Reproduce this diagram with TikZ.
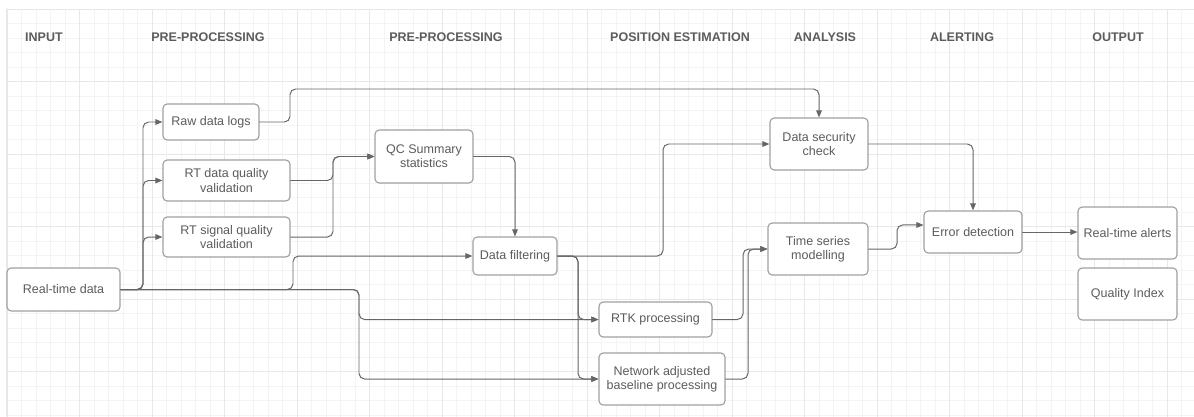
\documentclass[tikz,border=0pt]{standalone}
\usepackage{fontspec}
\setmainfont{Liberation Sans}
\usepackage{tikz}
\usetikzlibrary{arrows.meta}
\usepackage{xcolor}
\definecolor{txtgray}{HTML}{5C5C5C}
\definecolor{linegray}{HTML}{666666}
\definecolor{boxgray}{HTML}{A0A0A0}
\definecolor{gridminor}{HTML}{F4F4F4}
\definecolor{gridmajor}{HTML}{E8E8E8}

\tikzset{
  box/.style={draw=boxgray,line width=0.8pt,rounded corners=3pt,fill=white,
    align=center,inner sep=2pt,text=txtgray},
  conn/.style={draw=linegray,line width=0.7pt,rounded corners=4pt,
    -{Triangle[length=5pt,width=4pt]}},
  lane/.style={font=\bfseries\fontsize{8.9}{10}\selectfont,text=txtgray}
}

\begin{document}
\begin{tikzpicture}[x=0.025cm,y=-0.025cm,font=\fontsize{8.9}{10.2}\selectfont,line cap=round]
\useasboundingbox (0,0) rectangle (1194,416);
\fill[white] (0,0) rectangle (1194,416);
\begin{scope}
\clip (7,9) rectangle (1194,416);
\begin{scope}[shift={(7,9)}]
\draw[gridminor,line width=0.5pt] (0,0) grid[xstep=0.3625cm,ystep=0.3625cm] (1190,410);
\draw[gridmajor,line width=0.6pt] (0,0) grid[xstep=1.8125cm,ystep=1.8125cm] (1190,410);
\end{scope}
\end{scope}
\draw[gridmajor,line width=1pt] (7,9) -- (7,416);

% lane headings
\node[lane] (hin) at (44,37) {INPUT};
\node[lane] (hpre1) at (208,37) {PRE-PROCESSING};
\node[lane] (hpre2) at (446,37) {PRE-PROCESSING};
\node[lane] (hpos) at (680,37) {POSITION ESTIMATION};
\node[lane] (hana) at (825,37) {ANALYSIS};
\node[lane] (halert) at (962,37) {ALERTING};
\node[lane] (hout) at (1118,37) {OUTPUT};

% boxes
\node[box,minimum width=2.825cm,minimum height=1.075cm] (rtd) at (63.5,289.5) {Real-time data};
\node[box,minimum width=2.4cm,minimum height=0.9cm] (raw) at (211,122) {Raw data logs};
\node[box,minimum width=3.175cm,minimum height=1.025cm] (rtdq) at (226.5,180.5) {RT data quality\\validation};
\node[box,minimum width=3.175cm,minimum height=1.0cm] (rtsq) at (226.5,237) {RT signal quality\\validation};
\node[box,minimum width=2.45cm,minimum height=1.325cm] (qc) at (424,156.5) {QC Summary\\statistics};
\node[box,minimum width=2.1cm,minimum height=0.95cm] (filt) at (515,256) {Data filtering};
\node[box,minimum width=2.825cm,minimum height=0.875cm] (rtk) at (655.5,319.5) {RTK processing};
\node[box,minimum width=3.15cm,minimum height=1.3cm] (nab) at (662,379) {Network adjusted\\baseline processing};
\node[box,minimum width=2.45cm,minimum height=1.3cm] (dsc) at (819,144) {Data security\\check};
\node[box,minimum width=2.5cm,minimum height=1.3cm] (tsm) at (818,249) {Time series\\modelling};
\node[box,minimum width=2.45cm,minimum height=1.05cm] (err) at (973,232) {Error detection};
\node[box,minimum width=2.475cm,minimum height=1.3cm] (alerts) at (1127.5,233) {Real-time alerts};
\node[box,minimum width=2.475cm,minimum height=1.3cm] (qidx) at (1127.5,294) {Quality Index};

% input fan-out
\draw[conn] (rtd.east) -- (143,289.5) |- (raw.west);
\draw[conn] (rtd.east) -- (143,289.5) |- (rtdq.west);
\draw[conn] (rtd.east) -- (143,289.5) |- (rtsq.west);
\draw[conn] (rtd.east) -- (293,289.5) |- (filt.west);
\draw[conn] (rtd.east) -- (359,289.5) |- (rtk.west);
\draw[conn] (rtd.east) -- (359,289.5) |- (nab.west);

% pre-processing
\draw[conn] (raw.east) -| (290,89) -| (dsc.north);
\draw[conn] (rtdq.east) -| (333,156.5) -- (qc.west);
\draw[conn] (rtsq.east) -| (333,156.5) -- (qc.west);
\draw[conn] (qc.east) -| (filt.north);
\draw[conn] (filt.east) -- (663,256) |- (dsc.west);
\draw[conn] (filt.east) -- (578,256) |- (rtk.west);
\draw[conn] (filt.east) -- (578,256) |- (nab.west);

% estimation and analysis
\draw[conn] (rtk.east) -- (743,319.5) |- (tsm.west);
\draw[conn] (nab.east) -- (748,379) |- (tsm.west);
\draw[conn] (dsc.east) -| (err.north);
\draw[conn] (tsm.east) -- (897,249) |- ([yshift=5pt]err.west);
\draw[conn] (err.east) -- (err.east -| alerts.west);
\end{tikzpicture}
\end{document}
